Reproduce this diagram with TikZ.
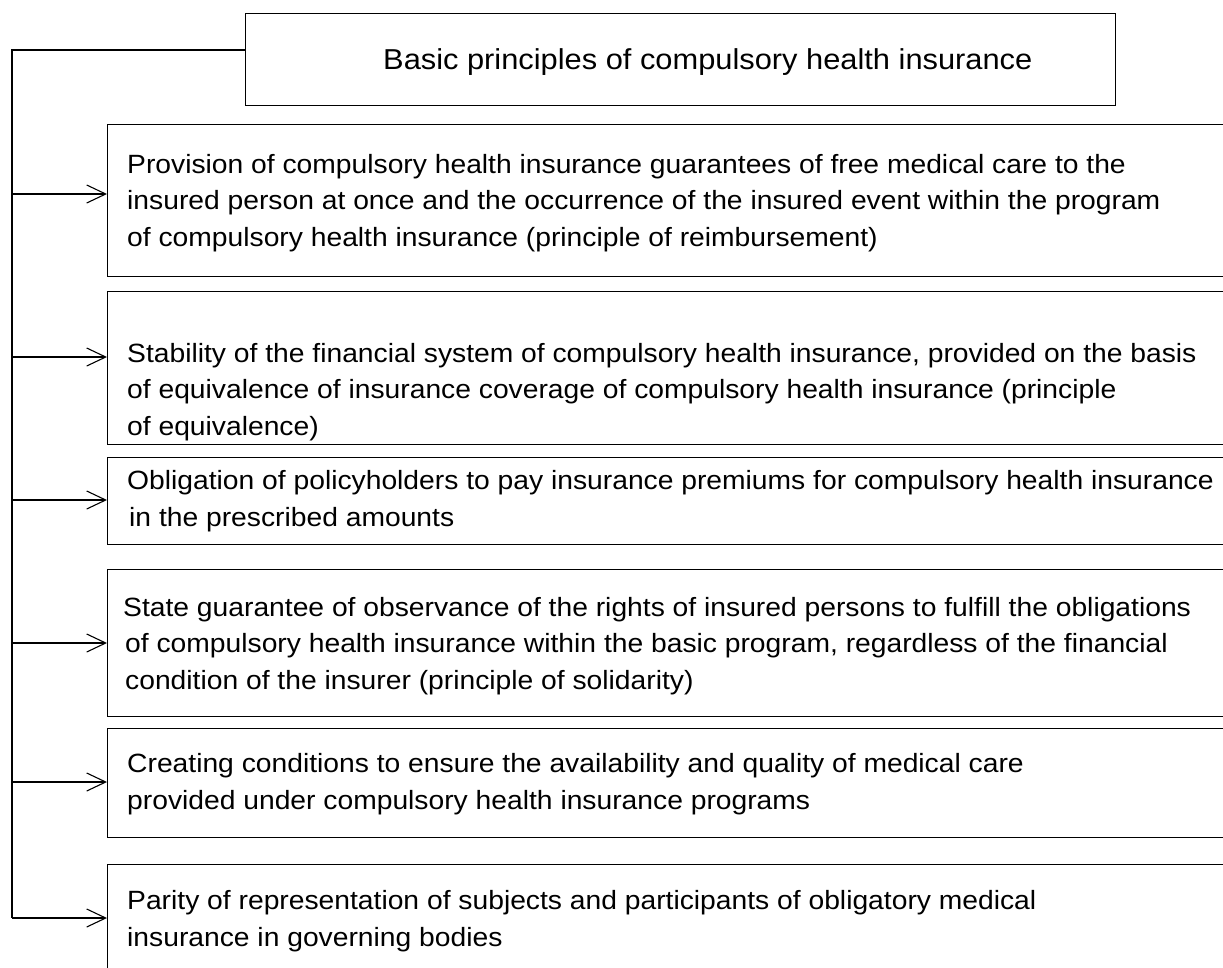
\documentclass[tikz,border=0pt]{standalone}
\usepackage{fontspec}
\setmainfont{Liberation Sans}[FakeStretch=1.07]
\usetikzlibrary{arrows.meta}
\begin{document}
\begin{tikzpicture}[x=1pt,y=-1pt,
  box/.style={draw, line width=1.1pt, rectangle, anchor=north west, inner sep=0pt},
  txt/.style={anchor=base west, align=left, inner sep=0pt, font=\fontsize{26.4}{36.5}\selectfont},
  ttl/.style={anchor=base west, inner sep=0pt, font=\fontsize{28.8}{32}\selectfont},
  arr/.style={-{Straight Barb[length=19pt,width=18pt,line width=1.1pt]}, line width=1.1pt},
  lin/.style={line width=1.1pt}]
\useasboundingbox (0,0) rectangle (1223,967);
\clip (0,0) rectangle (1223,967);
% boxes
\node[box, minimum width=870pt, minimum height=92pt] (t) at (245,13) {};
\node[box, minimum width=1140pt, minimum height=152pt] (b1) at (107,124) {};
\node[box, minimum width=1140pt, minimum height=153pt] (b2) at (107,291) {};
\node[box, minimum width=1140pt, minimum height=87pt] (b3) at (107,457) {};
\node[box, minimum width=1140pt, minimum height=147pt] (b4) at (107,569) {};
\node[box, minimum width=1140pt, minimum height=109pt] (b5) at (107,728) {};
\node[box, minimum width=1140pt, minimum height=140pt] (b6) at (107,864) {};
% texts (base anchor = baseline of the last line)
\node[ttl] (tt) at (383,69) {Basic principles of compulsory health insurance};
\node[txt] (x1) at (127,246) {Provision of compulsory health insurance guarantees of free medical care to the\\insured person at once and the occurrence of the insured event within the program\\of compulsory health insurance (principle of reimbursement)};
\node[txt] (x2) at (127,435) {Stability of the financial system of compulsory health insurance, provided on the basis\\of equivalence of insurance coverage of compulsory health insurance (principle\\of equivalence)};
\node[txt] (x3) at (127,526) {Obligation of policyholders to pay insurance premiums for compulsory health insurance\\\hspace{2pt}in the prescribed amounts};
\node[txt] (x4) at (123,689) {State guarantee of observance of the rights of insured persons to fulfill the obligations\\\hspace{2pt}of compulsory health insurance within the basic program, regardless of the financial\\\hspace{2pt}condition of the insurer (principle of solidarity)};
\node[txt] (x5) at (127,809) {Creating conditions to ensure the availability and quality of medical care\\provided under compulsory health insurance programs};
\node[txt] (x6) at (127,946) {Parity of representation of subjects and participants of obligatory medical\\insurance in governing bodies};
% connectors
\coordinate (top) at (12,50);
\coordinate (s1) at (12,194);
\coordinate (s2) at (12,357);
\coordinate (s3) at (12,500);
\coordinate (s4) at (12,643);
\coordinate (s5) at (12,782);
\coordinate (s6) at (12,918);
\draw[lin] (top -| t.west) -- (top) -- (s6);
\draw[arr] (s1) -- (s1 -| b1.west);
\draw[arr] (s2) -- (s2 -| b2.west);
\draw[arr] (s3) -- (s3 -| b3.west);
\draw[arr] (s4) -- (s4 -| b4.west);
\draw[arr] (s5) -- (s5 -| b5.west);
\draw[arr] (s6) -- (s6 -| b6.west);
\end{tikzpicture}
\end{document}
